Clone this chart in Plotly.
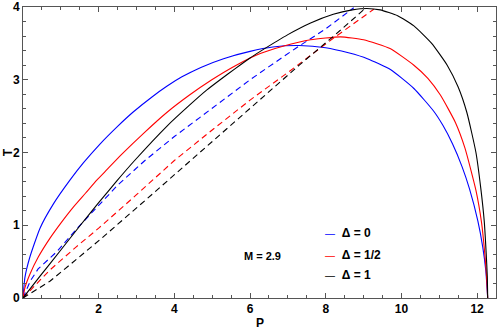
import plotly.graph_objects as go

# solid curves T(P) for three values of Delta (M = 2.9)
p_d0 = [0, 0.05, 0.18, 0.45, 0.8, 1.24, 1.6, 2.04, 2.5, 2.92, 3.4, 3.8, 4.2, 4.7, 5.3, 6.0, 6.6,
        7.3, 8.0, 8.6, 9.1, 9.71, 10.33, 10.85, 11.1, 11.35, 11.6, 11.8, 12.02, 12.15, 12.23, 12.28]
t_d0 = [0, 0.28, 0.56, 0.96, 1.29, 1.62, 1.86, 2.12, 2.36, 2.56, 2.76, 2.91, 3.04, 3.17, 3.29, 3.39, 3.45,
        3.47, 3.44, 3.37, 3.29, 3.14, 2.88, 2.57, 2.37, 2.12, 1.81, 1.50, 1.06, 0.70, 0.38, 0]

p_d12 = [0, 0.05, 0.185, 0.4, 0.71, 1.0, 1.33, 1.65, 1.95, 2.21, 2.6, 3.2, 3.8, 4.4, 4.99, 5.6, 6.27,
         6.87, 7.6, 8.39, 9.0, 9.7, 10.33, 10.7, 11.03, 11.43, 11.68, 11.97, 12.12, 12.2, 12.25, 12.28]
t_d12 = [0, 0.14, 0.33, 0.56, 0.82, 1.03, 1.25, 1.44, 1.62, 1.76, 1.97, 2.27, 2.55, 2.79, 3.0, 3.19, 3.36,
         3.46, 3.55, 3.59, 3.55, 3.43, 3.2, 3.02, 2.79, 2.41, 2.06, 1.48, 1.03, 0.63, 0.3, 0]

p_d1 = [0, 0.45, 1.0, 1.5, 2.0, 2.48, 2.95, 3.8, 4.4, 4.86, 5.21, 5.6, 6.0, 6.27, 7.0, 7.6, 8.2,
        8.7, 9.09, 9.44, 9.9, 10.33, 10.8, 11.21, 11.5, 11.73, 11.97, 12.1, 12.19, 12.24, 12.27, 12.28]
t_d1 = [0, 0.3, 0.66, 0.99, 1.31, 1.61, 1.89, 2.36, 2.65, 2.86, 3.0, 3.15, 3.3, 3.39, 3.62, 3.78, 3.9,
        3.96, 3.98, 3.96, 3.88, 3.74, 3.5, 3.2, 2.9, 2.55, 2.0, 1.5, 1.05, 0.62, 0.3, 0]

# dashed curves
pd_d0 = [0, 0.2, 0.4, 0.9, 1.4, 2.0, 2.5, 3.2, 4.0, 4.67, 5.3, 6.0, 6.5, 7.2, 8.0, 8.74]
td_d0 = [0, 0.24, 0.4, 0.64, 0.94, 1.28, 1.55, 1.88, 2.22, 2.48, 2.73, 3.0, 3.18, 3.43, 3.7, 3.99]

pd_d12 = [0, 0.7, 1.4, 2.0, 3.0, 4.0, 5.0, 6.0, 7.0, 8.2, 9.27]
td_d12 = [0, 0.38, 0.7, 0.96, 1.42, 1.89, 2.31, 2.72, 3.1, 3.57, 3.97]

pd_d1 = [0, 0.22, 0.71, 1.2, 2.03, 3.27, 4.25, 5.2, 6.45, 7.3, 8.21, 9.0]
td_d1 = [0, 0.07, 0.23, 0.44, 0.8, 1.36, 1.81, 2.24, 2.82, 3.2, 3.6, 3.96]

labels = ['Δ = 0', 'Δ = 1/2', 'Δ = 1']
colors = ['#0000ff', '#ff0000', '#000000']

FONT = 'Liberation Sans, Arial, sans-serif'
FRAME = '#555555'

fig = go.Figure()

solid = [(p_d0, t_d0), (p_d12, t_d12), (p_d1, t_d1)]
dashed = [(pd_d0, td_d0), (pd_d12, td_d12), (pd_d1, td_d1)]

for (p, t), (pd, td), name, col in zip(solid, dashed, labels, colors):
    fig.add_trace(go.Scatter(x=pd, y=td, mode='lines', name=name, showlegend=False,
                             line=dict(color=col, width=1.1, dash='6px,4px')))
    fig.add_trace(go.Scatter(x=p, y=t, mode='lines', name=name, showlegend=False,
                             line=dict(color=col, width=1.1, shape='spline', smoothing=0.5)))

axis_common = dict(
    showgrid=False, zeroline=False, showline=True, linecolor=FRAME, linewidth=1,
    mirror='allticks', ticks='inside', ticklen=5, tickcolor=FRAME, tickwidth=1,
    tickfont=dict(family=FONT, size=12, color='black', weight='bold'),
)

fig.update_xaxes(range=[0, 12.5], tickvals=[2, 4, 6, 8, 10, 12],
                 minor=dict(dtick=0.5, ticks='inside', ticklen=3, tickcolor=FRAME), **axis_common)
fig.update_yaxes(range=[0, 4], tickvals=[0, 1, 2, 3, 4],
                 minor=dict(dtick=0.2, ticks='inside', ticklen=3, tickcolor=FRAME), **axis_common)

annotations = [
    dict(text='T', x=-0.032, y=0.5, textangle=-90, size=12),
    dict(text='P', x=0.5, y=-0.086, size=12),
    dict(text='M = 2.9', x=0.462, y=0.146, xanchor='left', size=11),
]
for i, (name, col) in enumerate(zip(labels, colors)):
    annotations.append(dict(
        text=f"<span style='color:{col};font-size:10px;font-weight:normal'>—</span>\u00a0\u00a0{name}",
        x=0.634, y=[0.223, 0.148, 0.079][i], xanchor='left', size=12))

for a in annotations:
    size = a.pop('size')
    a.update(xref='paper', yref='paper', showarrow=False, yanchor='middle',
             font=dict(family=FONT, size=size, color='black', weight='bold'))
    a.setdefault('xanchor', 'center')

fig.update_layout(
    width=497, height=330,
    margin=dict(l=23, r=1, t=7, b=32),
    plot_bgcolor='white', paper_bgcolor='white',
    showlegend=False,
    annotations=annotations,
)

fig.write_html("out.html", config={'displayModeBar': False},
               post_script="document.body.style.margin='0';")
